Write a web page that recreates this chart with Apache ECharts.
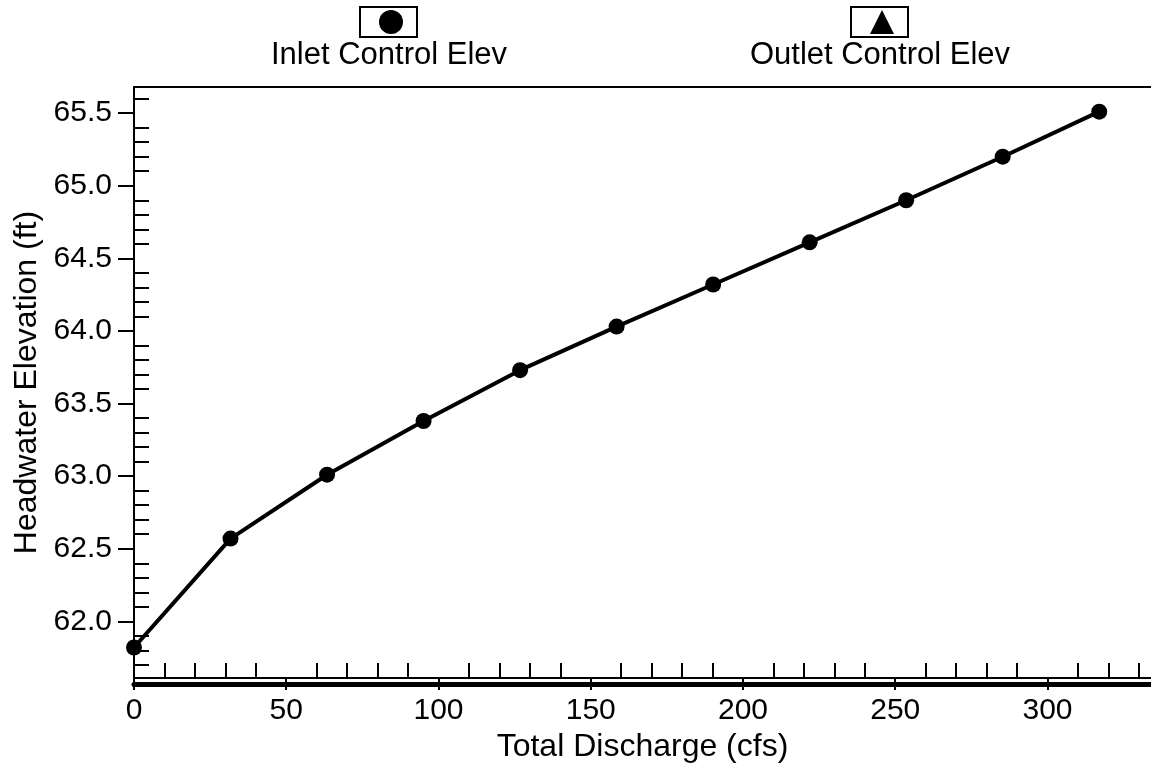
<!DOCTYPE html>
<html>
<head>
<meta charset="utf-8">
<script src="https://cdn.jsdelivr.net/npm/echarts@6/dist/echarts.min.js"></script>
<style>
  html, body { margin: 0; padding: 0; background: #fff; }
  #chart { width: 1151px; height: 769px; }
</style>
</head>
<body>
<div id="chart"></div>
<script>
// total discharge (cfs) and inlet control headwater elevation (ft)
const discharge = [0, 31.7, 63.4, 95.1, 126.8, 158.5, 190.2, 221.9, 253.6, 285.3, 317.0];
const inletElev = [61.82, 62.57, 63.01, 63.38, 63.73, 64.03, 64.32, 64.61, 64.90, 65.20, 65.51];
const outletElev = []; // shown in legend only

const xMajorTicks = [0, 50, 100, 150, 200, 250, 300];
const xMinorTicks = [10, 20, 30, 40, 60, 70, 80, 90, 110, 120, 130, 140, 160, 170, 180, 190,
  210, 220, 230, 240, 260, 270, 280, 290, 310, 320, 330];
const yMajorTicks = [62.0, 62.5, 63.0, 63.5, 64.0, 64.5, 65.0, 65.5];
const yMinorTicks = [61.7, 61.8, 61.9, 62.1, 62.2, 62.3, 62.4, 62.6, 62.7, 62.8, 62.9,
  63.1, 63.2, 63.3, 63.4, 63.6, 63.7, 63.8, 63.9, 64.1, 64.2, 64.3, 64.4,
  64.6, 64.7, 64.8, 64.9, 65.1, 65.2, 65.3, 65.4, 65.6];

const FONT = '"Liberation Sans", Arial, sans-serif';
const X_MIN = 0, X_MAX = 334;
const Y_MIN = 61.61, Y_MAX = 65.68;

const chart = echarts.init(document.getElementById('chart'));

const legendBox = (left, name, icon) => ({
  left: left,
  top: 7,
  padding: [3, 14, 3, 19],
  borderColor: '#000',
  borderWidth: 2,
  itemWidth: 24,
  itemHeight: 24,
  itemGap: 0,
  selectedMode: false,
  formatter: () => '',
  data: [{ name: name, icon: icon, itemStyle: { color: '#000' } }]
});

const titleText = (text, x) => ({
  text: text, left: x, top: 40, textAlign: 'center', padding: 0,
  textStyle: { fontFamily: FONT, fontSize: 31, fontWeight: 'normal', color: '#000' }
});

const option = {
  animation: false,
  backgroundColor: '#fff',
  textStyle: { fontFamily: FONT, color: '#000' },
  title: [
    titleText('Inlet Control Elev', 389),
    titleText('Outlet Control Elev', 880)
  ],
  legend: [
    legendBox(360, 'Inlet Control Elev', 'circle'),
    legendBox(851, 'Outlet Control Elev', 'triangle')
  ],
  grid: { left: 134, right: 0, top: 87, bottom: 91, containLabel: false },
  xAxis: [
    {
      type: 'value', min: X_MIN, max: X_MAX, position: 'bottom',
      name: 'Total Discharge (cfs)', nameLocation: 'middle', nameGap: 52,
      nameTextStyle: { fontFamily: FONT, fontSize: 32, color: '#000' },
      axisLine: { show: true, onZero: false, lineStyle: { color: '#000', width: 2 } },
      axisTick: { show: true, inside: false, length: 12, customValues: xMajorTicks,
        lineStyle: { color: '#000', width: 2 } },
      axisLabel: { show: true, customValues: xMajorTicks, margin: 18,
        fontFamily: FONT, fontSize: 30, color: '#000' },
      splitLine: { show: false }
    },
    {
      type: 'value', min: X_MIN, max: X_MAX, position: 'bottom',
      axisLine: { show: false },
      axisTick: { show: true, inside: true, length: 15, customValues: xMinorTicks,
        lineStyle: { color: '#000', width: 2 } },
      axisLabel: { show: false, customValues: xMinorTicks },
      splitLine: { show: false }
    },
    {
      type: 'value', min: X_MIN, max: X_MAX, position: 'bottom', offset: 6,
      axisLine: { show: true, onZero: false, lineStyle: { color: '#000', width: 5 } },
      axisTick: { show: false }, axisLabel: { show: false }, splitLine: { show: false }
    },
    {
      type: 'value', min: X_MIN, max: X_MAX, position: 'top',
      axisLine: { show: true, onZero: false, lineStyle: { color: '#000', width: 2 } },
      axisTick: { show: false }, axisLabel: { show: false }, splitLine: { show: false }
    }
  ],
  yAxis: [
    {
      type: 'value', min: Y_MIN, max: Y_MAX, position: 'left',
      name: 'Headwater Elevation (ft)', nameLocation: 'middle', nameGap: 90, nameRotate: 90,
      nameTextStyle: { fontFamily: FONT, fontSize: 32, color: '#000' },
      axisLine: { show: true, onZero: false, lineStyle: { color: '#000', width: 2 } },
      axisTick: { show: true, inside: false, length: 16, customValues: yMajorTicks,
        lineStyle: { color: '#000', width: 2 } },
      axisLabel: { show: true, customValues: yMajorTicks, margin: 22,
        formatter: v => v.toFixed(1), fontFamily: FONT, fontSize: 30, color: '#000' },
      splitLine: { show: false }
    },
    {
      type: 'value', min: Y_MIN, max: Y_MAX, position: 'left',
      axisLine: { show: false },
      axisTick: { show: true, inside: true, length: 15, customValues: yMinorTicks,
        lineStyle: { color: '#000', width: 2 } },
      axisLabel: { show: false, customValues: yMinorTicks },
      splitLine: { show: false }
    }
  ],
  series: [
    {
      name: 'Inlet Control Elev',
      type: 'line',
      xAxisIndex: 0, yAxisIndex: 0,
      data: discharge.map((x, i) => [x, inletElev[i]]),
      symbol: 'circle', symbolSize: 16,
      lineStyle: { color: '#000', width: 4 },
      itemStyle: { color: '#000' }
    },
    {
      name: 'Outlet Control Elev',
      type: 'line',
      xAxisIndex: 0, yAxisIndex: 0,
      data: outletElev,
      symbol: 'triangle', symbolSize: 16,
      lineStyle: { color: '#000', width: 4 },
      itemStyle: { color: '#000' }
    }
  ]
};

chart.setOption(option);
</script>
</body>
</html>
